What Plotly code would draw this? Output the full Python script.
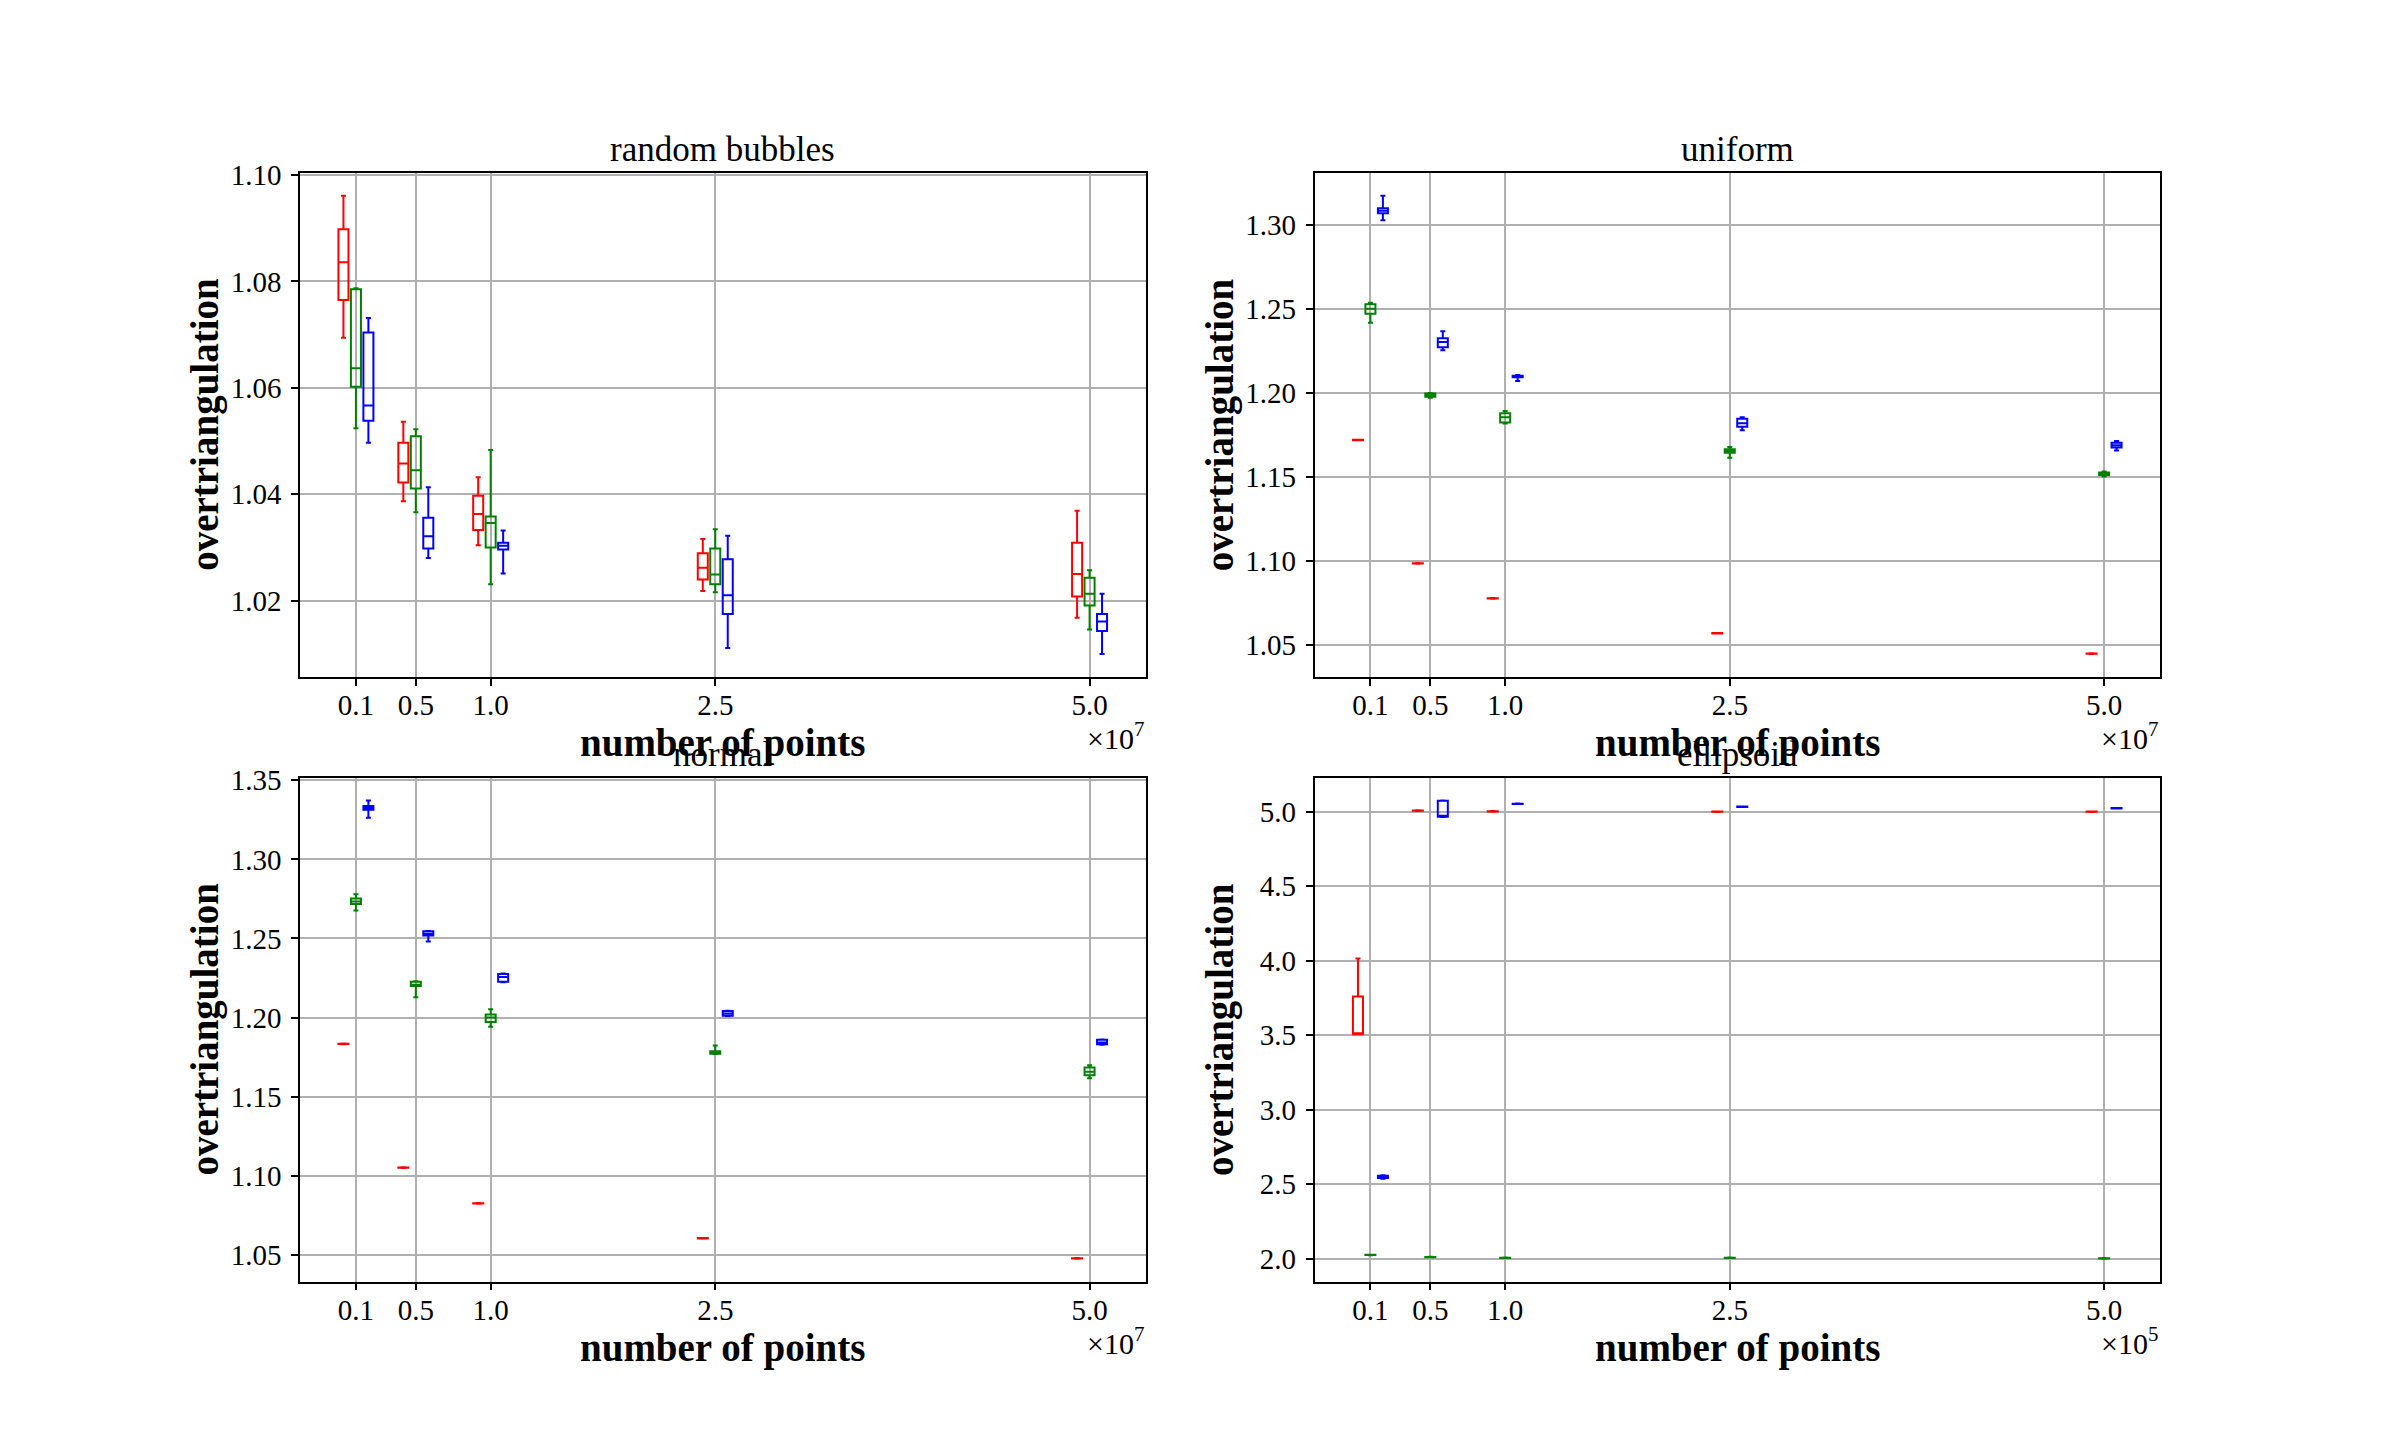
import plotly.graph_objects as go

# ---------------- data ----------------
# number of points per panel
N_large = [1e6, 5e6, 1e7, 2.5e7, 5e7]
N_small = [1e4, 5e4, 1e5, 2.5e5, 5e5]
tick_labels = ["0.1", "0.5", "1.0", "2.5", "5.0"]

# each entry: (lower whisker, q1, median, q3, upper whisker)
bubbles_red = [(1.0694, 1.0765, 1.0836, 1.0898, 1.0961), (1.0387, 1.0422, 1.0458, 1.0497, 1.0536),
               (1.0304, 1.0333, 1.0363, 1.0397, 1.0432), (1.0218, 1.0240, 1.0262, 1.0289, 1.0316),
               (1.0168, 1.0208, 1.0250, 1.0309, 1.0369)]
bubbles_green = [(1.0524, 1.0602, 1.0637, 1.0785, 1.0787), (1.0366, 1.0411, 1.0445, 1.0509, 1.0522),
                 (1.0231, 1.0300, 1.0346, 1.0358, 1.0483), (1.0216, 1.0231, 1.0249, 1.0298, 1.0334),
                 (1.0146, 1.0191, 1.0213, 1.0243, 1.0257)]
bubbles_blue = [(1.0497, 1.0538, 1.0567, 1.0704, 1.0731), (1.0280, 1.0298, 1.0321, 1.0356, 1.0413),
                (1.0251, 1.0296, 1.0303, 1.0309, 1.0332), (1.0111, 1.0175, 1.0210, 1.0278, 1.0322),
                (1.0100, 1.0143, 1.0161, 1.0175, 1.0213)]

uniform_red = [(1.1717, 1.1718, 1.1719, 1.1720, 1.1721), (1.0982, 1.0983, 1.0984, 1.0985, 1.0986),
               (1.0774, 1.0775, 1.0776, 1.0777, 1.0778), (1.0566, 1.0567, 1.0568, 1.0569, 1.0570),
               (1.0445, 1.0446, 1.0447, 1.0448, 1.0449)]
uniform_green = [(1.2418, 1.2471, 1.2500, 1.2528, 1.2537), (1.1970, 1.1977, 1.1985, 1.1996, 1.1999),
                 (1.1817, 1.1823, 1.1855, 1.1878, 1.1891), (1.1613, 1.1643, 1.1653, 1.1664, 1.1677),
                 (1.1501, 1.1510, 1.1517, 1.1525, 1.1531)]
uniform_blue = [(1.3028, 1.3070, 1.3085, 1.3100, 1.3174), (1.2254, 1.2271, 1.2303, 1.2325, 1.2367),
                (1.2070, 1.2093, 1.2098, 1.2102, 1.2106), (1.1777, 1.1798, 1.1819, 1.1845, 1.1855),
                (1.1656, 1.1674, 1.1688, 1.1702, 1.1713)]

normal_red = [(1.1832, 1.1833, 1.1834, 1.1835, 1.1836), (1.1050, 1.1051, 1.1052, 1.1053, 1.1054),
              (1.0824, 1.0825, 1.0826, 1.0827, 1.0828), (1.0603, 1.0604, 1.0605, 1.0606, 1.0607),
              (1.0476, 1.0477, 1.0478, 1.0479, 1.0480)]
normal_green = [(1.2677, 1.2718, 1.2734, 1.2752, 1.2779), (1.2129, 1.2199, 1.2208, 1.2226, 1.2230),
                (1.1942, 1.1972, 1.2001, 1.2019, 1.2053), (1.1769, 1.1771, 1.1778, 1.1787, 1.1823),
                (1.1616, 1.1635, 1.1657, 1.1684, 1.1698)]
normal_blue = [(1.3263, 1.3313, 1.3326, 1.3338, 1.3372), (1.2481, 1.2519, 1.2530, 1.2546, 1.2548),
               (1.2224, 1.2226, 1.2256, 1.2276, 1.2278), (1.2010, 1.2012, 1.2026, 1.2041, 1.2043),
               (1.1829, 1.1831, 1.1843, 1.1860, 1.1862)]

ellipsoid_red = [(3.505, 3.505, 3.510, 3.760, 4.014), (5.005, 5.006, 5.007, 5.008, 5.009),
                 (5.000, 5.001, 5.002, 5.003, 5.004), (4.998, 4.999, 5.000, 5.001, 5.002),
                 (4.998, 4.999, 5.000, 5.001, 5.002)]
ellipsoid_green = [(2.022, 2.023, 2.024, 2.025, 2.026), (2.008, 2.009, 2.010, 2.011, 2.012),
                   (2.003, 2.004, 2.005, 2.006, 2.007), (2.003, 2.004, 2.005, 2.006, 2.007),
                   (1.999, 2.000, 2.001, 2.002, 2.003)]
ellipsoid_blue = [(2.535, 2.540, 2.550, 2.555, 2.560), (4.965, 4.966, 4.970, 5.074, 5.075),
                  (5.051, 5.052, 5.053, 5.054, 5.055), (5.031, 5.032, 5.033, 5.034, 5.035),
                  (5.021, 5.022, 5.023, 5.024, 5.025)]

panel_titles = ["random bubbles", "uniform", "normal", "ellipsoid"]
panel_N = [N_large, N_large, N_large, N_small]
panel_exp = ["7", "7", "7", "5"]
panel_series = [
    [bubbles_red, bubbles_green, bubbles_blue],
    [uniform_red, uniform_green, uniform_blue],
    [normal_red, normal_green, normal_blue],
    [ellipsoid_red, ellipsoid_green, ellipsoid_blue],
]
y_dtick = [0.02, 0.05, 0.05, 0.5]
y_fmt = [".2f", ".2f", ".2f", ".1f"]

# ---------------- styling / layout ----------------
colors = ["#ff0000", "#008000", "#0000ff"]
offset_factor = [-1 / 60, 0, 1 / 60]
W, H = 2400, 1440
col_px = [(300, 1145.5), (1314.5, 2160)]
row_px = [(172.8, 676.8), (777.6, 1281.6)]
FONT = "Liberation Serif"

fig = go.Figure()
annotations = []
layout = {}

for p in range(4):
    r, c = divmod(p, 2)
    ax = "" if p == 0 else str(p + 1)
    N = panel_N[p]
    scale = max(N)
    off = scale / 60
    bw = scale * 0.0134
    for s, series in enumerate(panel_series[p]):
        xs = [n + scale * offset_factor[s] for n in N]
        fig.add_trace(go.Box(
            x=xs,
            lowerfence=[v[0] for v in series],
            q1=[v[1] for v in series],
            median=[v[2] for v in series],
            q3=[v[3] for v in series],
            upperfence=[v[4] for v in series],
            width=bw,
            whiskerwidth=0.5,
            line=dict(color=colors[s], width=2),
            fillcolor="rgba(0,0,0,0)",
            boxpoints=False,
            hoverinfo="skip",
            showlegend=False,
            xaxis="x" + ax, yaxis="y" + ax,
        ))
    # ranges (matplotlib-like 5% margins)
    lo_x = min(N) - off - bw / 2
    hi_x = max(N) + off + bw / 2
    px = (hi_x - lo_x) * 0.05
    allv = [v for ser in panel_series[p] for t in ser for v in t]
    lo_y, hi_y = min(allv), max(allv)
    py = (hi_y - lo_y) * 0.05

    x0, x1 = col_px[c]
    y0, y1 = row_px[r]
    common = dict(showline=True, mirror=True, linecolor="black", linewidth=1.6,
                  ticks="outside", ticklen=7, tickwidth=1.6, tickcolor="black",
                  showgrid=True, gridcolor="#b0b0b0", gridwidth=1.5, zeroline=False,
                  automargin=False,
                  tickfont=dict(family=FONT, size=29, color="black"))
    layout["xaxis" + ax] = dict(common, domain=[x0 / W, x1 / W], anchor="y" + ax,
                                range=[lo_x - px, hi_x + px], tickmode="array",
                                tickvals=N, ticktext=tick_labels, ticklabelstandoff=-5)
    layout["yaxis" + ax] = dict(common, domain=[1 - y1 / H, 1 - y0 / H], anchor="x" + ax,
                                range=[lo_y - py, hi_y + py], dtick=y_dtick[p],
                                tickformat=y_fmt[p], ticklabelstandoff=4)
    xc = (x0 + x1) / 2
    # title
    annotations.append(dict(text=panel_titles[p], x=xc / W, y=1 - (y0 - 23) / H,
                            xref="paper", yref="paper", xanchor="center", yanchor="middle",
                            showarrow=False, font=dict(family=FONT, size=35, color="black")))
    # x label
    annotations.append(dict(text="<b>number of points</b>", x=xc / W, y=1 - (y1 + 66) / H,
                            xref="paper", yref="paper", xanchor="center", yanchor="middle",
                            showarrow=False, font=dict(family=FONT, size=39, color="black")))
    # y label
    annotations.append(dict(text="<b>overtriangulation</b>", x=(x0 - 95) / W, y=1 - (y0 + y1) / 2 / H,
                            xref="paper", yref="paper", xanchor="center", yanchor="middle",
                            textangle=-90, showarrow=False,
                            font=dict(family=FONT, size=39, color="black")))
    # offset text
    annotations.append(dict(text="×10<sup>" + panel_exp[p] + "</sup>", x=x1 / W, y=1 - (y1 + 80) / H,
                            xref="paper", yref="paper", xanchor="right", yanchor="bottom",
                            showarrow=False, font=dict(family=FONT, size=30, color="black")))

fig.update_layout(
    width=W, height=H,
    margin=dict(l=0, r=0, t=0, b=0, autoexpand=False),
    paper_bgcolor="white", plot_bgcolor="white",
    boxmode="overlay",
    annotations=annotations,
    **layout,
)

fig.write_html("out.html")
